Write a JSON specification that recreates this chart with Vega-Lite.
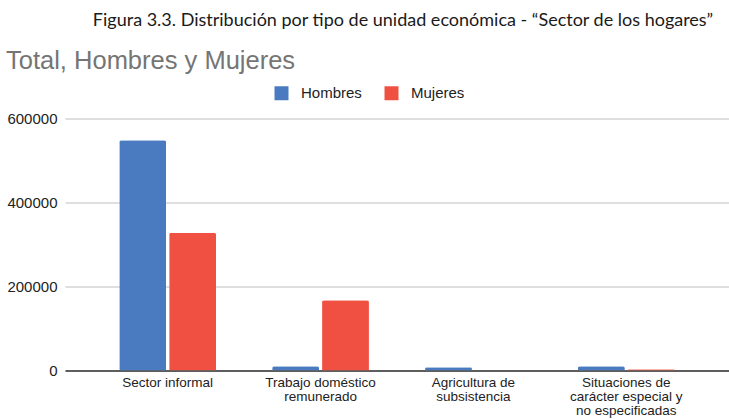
{
  "$schema": "https://vega.github.io/schema/vega-lite/v6.json",
  "padding": {"left": 5, "top": 11.5, "right": 0, "bottom": 0},
  "background": "white",
  "title": {"text": "Figura 3.3. Distribución por tipo de unidad económica - “Sector de los hogares”", "anchor": "middle", "frame": "bounds", "dx": 36, "font": "Lato", "fontSize": 18, "fontWeight": "normal", "color": "#1a1a1a", "offset": 19},
  "config": {"view": {"stroke": null}, "concat": {"spacing": 0}},
  "vconcat": [
    {
      "width": 664,
      "height": 252,
      "title": {"text": "Total, Hombres y Mujeres", "anchor": "start", "frame": "bounds", "dx": 1, "font": "Liberation Sans", "fontSize": 25.5, "fontWeight": "normal", "color": "#757575", "offset": 37.5},
      "data": {"values": [
        {"cat": "Sector informal", "sexo": "Hombres", "valor": 548000},
        {"cat": "Sector informal", "sexo": "Mujeres", "valor": 328000},
        {"cat": "Trabajo doméstico remunerado", "sexo": "Hombres", "valor": 10000},
        {"cat": "Trabajo doméstico remunerado", "sexo": "Mujeres", "valor": 167000},
        {"cat": "Agricultura de subsistencia", "sexo": "Hombres", "valor": 7500},
        {"cat": "Agricultura de subsistencia", "sexo": "Mujeres", "valor": 0},
        {"cat": "Situaciones de carácter especial y no especificadas", "sexo": "Hombres", "valor": 10000},
        {"cat": "Situaciones de carácter especial y no especificadas", "sexo": "Mujeres", "valor": 3000}
      ]},
      "mark": {"type": "bar", "cornerRadiusTopLeft": 2, "cornerRadiusTopRight": 2},
      "encoding": {
        "x": {"field": "cat", "type": "nominal", "sort": null,
          "scale": {"paddingInner": 0.367, "paddingOuter": 0.355},
          "axis": {"title": null, "labelAngle": 0, "ticks": false, "domainColor": "#333333", "domainWidth": 1.5,
            "labelFont": "Liberation Sans", "labelFontSize": 13.5, "labelColor": "#222222", "labelPadding": 5, "labelLineHeight": 14, "labelBaseline": "top",
            "labelExpr": "datum.value == 'Trabajo doméstico remunerado' ? ['Trabajo doméstico', 'remunerado'] : datum.value == 'Agricultura de subsistencia' ? ['Agricultura de', 'subsistencia'] : datum.value == 'Situaciones de carácter especial y no especificadas' ? ['Situaciones de', 'carácter especial y', 'no especificadas'] : datum.value"}},
        "xOffset": {"field": "sexo", "type": "nominal", "scale": {"paddingInner": 0.06}},
        "y": {"field": "valor", "type": "quantitative",
          "scale": {"domain": [0, 600000]},
          "axis": {"title": null, "values": [0, 200000, 400000, 600000], "format": "d", "domain": false, "ticks": false,
            "labelFont": "Liberation Sans", "labelFontSize": 15, "labelColor": "#222222", "labelPadding": 8, "minExtent": 60, "maxExtent": 60,
            "gridColor": "#d4d4d4", "gridWidth": 1.3}},
        "color": {"field": "sexo", "type": "nominal",
          "scale": {"domain": ["Hombres", "Mujeres"], "range": ["#4a7bc0", "#ef5041"]},
          "legend": {"title": null, "orient": "none", "direction": "horizontal", "legendX": 209, "legendY": -33,
            "symbolType": "square", "symbolSize": 196, "symbolStrokeWidth": 0, "symbolOpacity": 1,
            "labelFont": "Liberation Sans", "labelFontSize": 15, "labelColor": "#222222", "labelOffset": 12, "columnPadding": 22}}
      }
    }
  ]
}
